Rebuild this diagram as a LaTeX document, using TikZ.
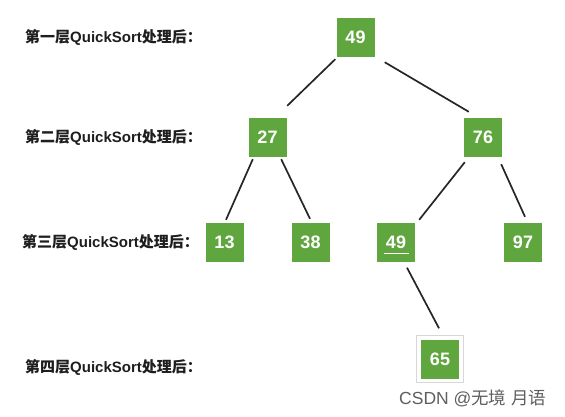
\documentclass[tikz,border=0pt]{standalone}
\usepackage{fontspec}
\setmainfont{Liberation Sans}
\newfontfamily\cjk{Noto Sans CJK SC}
\usetikzlibrary{calc}
\definecolor{boxgreen}{RGB}{96,166,62}
\definecolor{wmgray}{RGB}{95,95,95}
\definecolor{framegray}{RGB}{215,215,215}
\definecolor{lbltext}{RGB}{30,30,30}
\newcommand\lvltext[1]{{\cjk 第#1层}QuickSort{\cjk 处理后：}}
\begin{document}
\begin{tikzpicture}[x=1pt,y=-1pt,
  numbox/.style={fill=boxgreen,text=white,minimum width=38pt,minimum height=39pt,inner sep=0pt,font=\fontsize{18}{18}\selectfont\bfseries},
  lvl/.style={anchor=west,inner sep=0pt,text=lbltext,font=\fontsize{15}{15}\selectfont\bfseries},
  edge/.style={draw=black!85,line width=1.7pt}]
\useasboundingbox (0,0) rectangle (565,417);
\fill[white] (0,0) rectangle (565,417);
% labels
\node[lvl] (l1) at (25,37.5) {\lvltext{一}};
\node[lvl] (l2) at (25,137.5) {\lvltext{二}};
\node[lvl] (l3) at (22,242.5) {\lvltext{三}};
\node[lvl] (l4) at (25,367) {\lvltext{四}};
% boxes
\node[numbox] (n1) at (355.5,37.5) {49};
\node[numbox] (n2) at (267.5,137.5) {27};
\node[numbox] (n3) at (483,137.5) {76};
\node[numbox] (n4) at (224.5,242.5) {13};
\node[numbox] (n5) at (310.5,242.5) {38};
\node[numbox] (n6) at (396,242.5) {49};
\node[numbox] (n7) at (523,242.5) {97};
\node[numbox] (n8) at (440,359) {65};
\draw[framegray,line width=1pt] ($(n8.north west)+(-4,-4)$) rectangle ($(n8.south east)+(4,4)$);
\draw[white,line width=1.2pt] ($(n6.center)+(-12.5,11)$) -- ($(n6.center)+(12.5,11)$);
% edges
\draw[edge] ($(n1.south west)+(-1,2)$) -- ($(n2.north east)+(0.5,-12)$);
\draw[edge] ($(n1.south east)+(10,5)$) -- ($(n3.north west)+(5,-6)$);
\draw[edge] ($(n2.south west)+(4.5,2)$) -- ($(n4.north)+(1.5,-3)$);
\draw[edge] ($(n2.south east)+(-5.5,2)$) -- ($(n5.north)+(-0.5,-4)$);
\draw[edge] ($(n3.south west)+(1,5)$) -- ($(n6.north east)+(4,-3)$);
\draw[edge] ($(n3.south east)+(-1,7)$) -- ($(n7.north)+(2,-6)$);
\draw[edge] ($(n6.south)+(11,5.5)$) -- ($(n8.north)+(-1,-11)$);
% watermark
\node[anchor=west,inner sep=0pt,text=wmgray,font=\fontsize{17.5}{17.5}\selectfont] (wm) at (399,398) {CSDN @{\cjk 无境\hspace{5pt}月语}};
\end{tikzpicture}
\end{document}
